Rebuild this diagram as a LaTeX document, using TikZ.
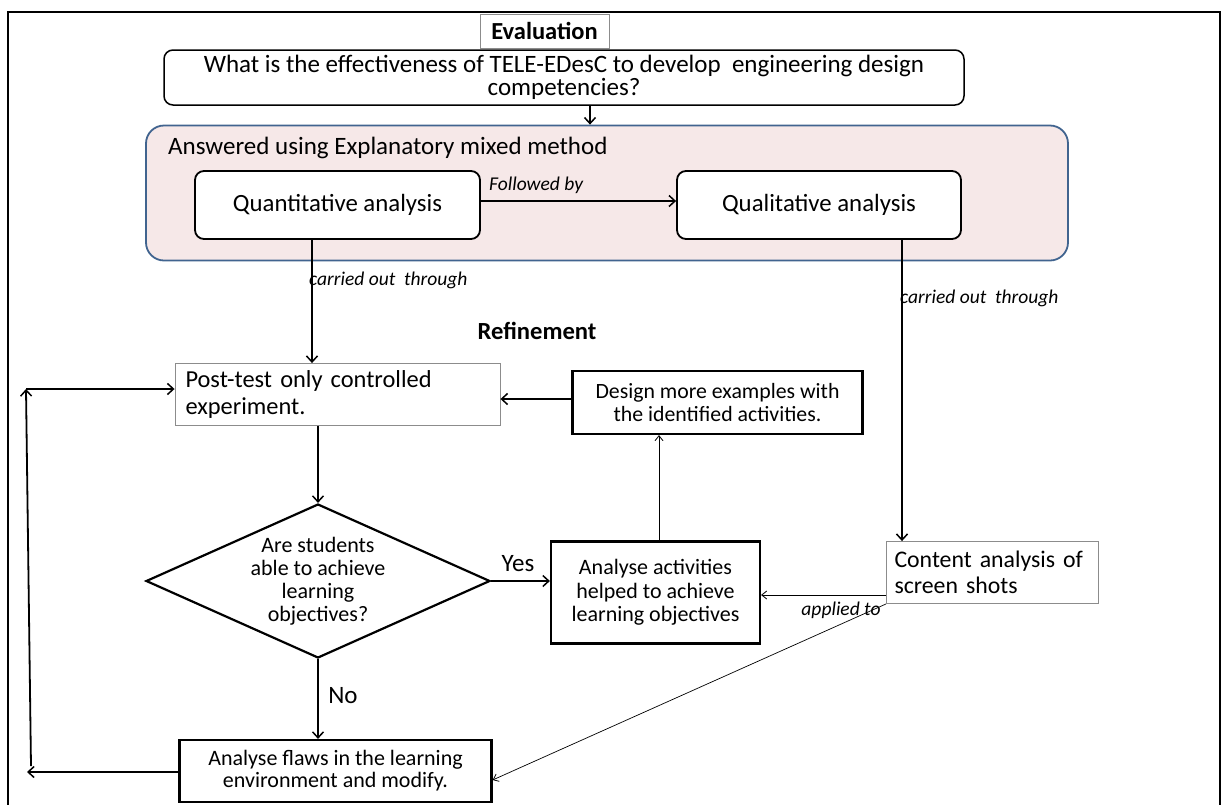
\documentclass[tikz,border=0pt]{standalone}
\usepackage{fontspec}
\setmainfont{Carlito}
\usetikzlibrary{arrows.meta,shapes.geometric,calc}
\definecolor{panelfill}{HTML}{F6E8E8}
\definecolor{panelline}{HTML}{41648F}
\definecolor{lightframe}{HTML}{8C8C8C}
\tikzset{
  fs/.style 2 args={font=\fontsize{#1}{#2}\selectfont},
  fsb/.style 2 args={font=\fontsize{#1}{#2}\selectfont\bfseries},
  fsi/.style 2 args={font=\fontsize{#1}{#2}\selectfont\itshape},
  roundbox/.style={draw=black, line width=1.8pt, rounded corners=9pt, fill=white, align=center, inner sep=0pt},
  thickbox/.style={draw=black, line width=2.2pt, fill=white, align=center, inner sep=0pt},
  greybox/.style={draw=lightframe, line width=0.9pt, fill=white, inner sep=0pt},
  arr/.style={line width=1.8pt, -{Straight Barb[length=6pt,width=11pt,line width=1.5pt]}},
  thinarr/.style={line width=0.8pt, -{Straight Barb[length=5pt,width=8pt,line width=0.8pt]}},
  lbl/.style={fsi={19.5}{22}, inner sep=0pt},
}
\begin{document}
\begin{tikzpicture}[x=1pt, y=-1pt]
\useasboundingbox (0,0) rectangle (1224,804);
\clip (0,0) rectangle (1224,804);
% outer frame
\draw[line width=2.4pt] (8,812) -- (8,12) -- (1220,12) -- (1220,812);

% research question
\node[greybox, minimum width=129pt, minimum height=34pt, fsb={24.5}{26}] (eval) at (544.5,31) {Evaluation};
\node[roundbox, line width=1.5pt, minimum width=800pt, minimum height=55pt, fs={25}{23}] (quest) at (564,77.5)
  {What is the effectiveness of TELE-EDesC to develop\ \ engineering design\\ competencies?};

% mixed method panel
\node[draw=panelline, line width=1.8pt, fill=panelfill, rounded corners=18pt, minimum width=922pt, minimum height=135pt] (panel) at (607,193) {};
\node[fs={25}{26}, anchor=west, inner sep=0pt] (answered) at (168,148) {Answered using Explanatory mixed method};
\node[roundbox, minimum width=285pt, minimum height=68pt, fs={24.8}{26}] (quant) at (337.5,205) {Quantitative analysis};
\node[roundbox, minimum width=284pt, minimum height=68pt, fs={24.8}{26}] (qual) at (819,205) {Qualitative analysis};

\draw[arr, line width=1.3pt] (590,0 |- quest.south) -- (590,0 |- panel.north);
\draw[arr] (quant.east |- 0,201) -- (qual.west |- 0,201);
\node[lbl, anchor=west] (followed) at (489,185) {Followed by};

% refinement loop
\node[fsb={24.6}{26}, inner sep=0pt] (refine) at (537,331) {Refinement};
\node[greybox, minimum width=325pt, minimum height=62pt, fs={24.4}{27.3}, align=left, text width=304pt] (post) at (337.5,394.5)
  {Post-test only controlled\\experiment.};
\node[thickbox, minimum width=290pt, minimum height=63pt, fs={21.8}{22.6}] (design) at (717.5,402.5)
  {Design more examples with\\the identified activities.};
\node[draw=black, line width=2.2pt, diamond, aspect=2.23, inner sep=0pt, minimum width=344pt, minimum height=154pt, align=center, fs={22}{23}] (dia) at (318,581)
  {Are students\\able to achieve\\learning\\objectives?};
\node[thickbox, minimum width=209pt, minimum height=102pt, fs={22}{23.3}] (analact) at (655.5,592.5)
  {Analyse activities\\helped to achieve\\learning objectives};
\node[greybox, minimum width=212pt, minimum height=62pt, fs={23.8}{26}, align=left, text width=196pt] (content) at (992.5,572.5)
  {Content analysis of\\screen shots};
\node[thickbox, minimum width=312pt, minimum height=62pt, fs={22}{22}] (flaws) at (335.5,771)
  {Analyse flaws in the learning\\environment and modify.};

% connectors
\draw[arr] (312,0 |- quant.south) -- (312,0 |- post.north);
\node[lbl, anchor=west] (carryA) at (309,280) {carried out\ \ through};
\draw[arr] (902,0 |- qual.south) -- (902,0 |- content.north);
\node[lbl, anchor=west] (carryB) at (900,298) {carried out\ \ through};

\draw[arr] (design.west |- 0,399) -- (post.east |- 0,399);
\draw[arr] (dia.north |- post.south) -- (dia.north);
\draw[arr] (dia.east) -- (dia.east -| analact.west);
\node[fs={25}{26}, inner sep=0pt] (yes) at (518,564) {Yes};
\draw[thinarr] (analact.north -| 659,0) -- (659,0 |- design.south);
\draw[thinarr] (content.west |- 0,595) -- (analact.east |- 0,595);
\node[lbl] (applied) at (841,610) {applied to};
\draw[thinarr, line width=0.7pt] (content.south west) -- (flaws.east |- 0,780);
\draw[arr] (dia.south) -- (dia.south |- flaws.north);
\node[fs={25}{26}, inner sep=0pt] (no) at (343,696) {No};

% return path to the experiment
\coordinate (loopEnd) at (27,772);
\coordinate (loopFoot) at (31,766);
\coordinate (loopTop) at (26,389);
\draw[arr] (flaws.west |- loopEnd) -- (loopEnd);
\draw[arr] (loopFoot) -- (loopTop);
\draw[arr] (loopTop) -- (post.west |- loopTop);
\end{tikzpicture}
\end{document}
